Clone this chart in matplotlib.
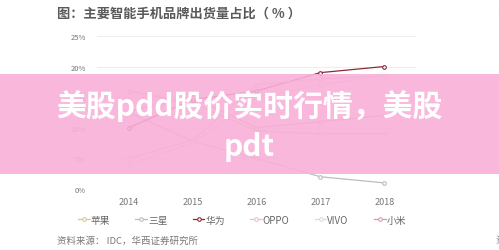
import matplotlib
matplotlib.use("Agg")
import matplotlib.pyplot as plt
from matplotlib.lines import Line2D
from matplotlib.patches import Rectangle

plt.rcParams['font.family'] = ['Noto Sans CJK SC', 'DejaVu Sans']

years = [2014, 2015, 2016, 2017, 2018]
brands = ['苹果', '三星', '华为', 'OPPO', 'VIVO', '小米']
apple = [16.0, 14.0, 9.5, 9.0, 9.0]
samsung = [12.5, 7.8, 5.0, 2.0, 1.0]
huawei = [10.0, 14.6, 16.0, 19.0, 20.0]
oppo = [5.0, 8.0, 17.0, 18.0, 18.5]
vivo = [4.0, 7.5, 15.0, 17.0, 18.5]
xiaomi = [12.7, 15.0, 10.0, 11.0, 12.0]
series = [apple, samsung, huawei, oppo, vivo, xiaomi]
colors = ['#d8c79a', '#bdbdbd', '#8e2a36', '#e6c3c6', '#dcdcdc', '#d39ea4']
yticks = [0, 5, 10, 15, 20, 25]
ytick_labels = ['0%', '5%', '10%', '15%', '20%', '25%']

fig = plt.figure(figsize=(4.99, 2.51), dpi=100)
ax = fig.add_axes([0.194, 0.243, 0.640, 0.610])
for vals, c in zip(series, colors):
    ax.plot(years, vals, color=c, lw=0.9, marker='o', ms=2.6,
            mfc='white', mec=c, mew=0.8, zorder=3)
ax.set_xlim(2013.5, 2018.5)
ax.set_ylim(0, 25)
ax.set_yticks(yticks)
ax.set_yticklabels(ytick_labels)
ax.set_xticks(years)
ax.set_xticklabels([str(y) for y in years])
ax.grid(axis='y', color='#eeeeee', lw=0.8)
ax.set_axisbelow(True)
for s in ax.spines.values():
    s.set_visible(False)
ax.tick_params(axis='both', length=0, colors='#777777')
ax.tick_params(axis='y', labelsize=5.5, pad=8)
ax.tick_params(axis='x', labelsize=6.5, pad=6)

handles = [Line2D([0], [0], color=c, lw=0.9, marker='o', ms=2.6,
                  mfc='white', mec=c, mew=0.8) for c in colors]
leg = fig.legend(handles, brands, loc='center', bbox_to_anchor=(0.485, 0.12),
                 ncol=6, frameon=False, fontsize=7, handlelength=1.2,
                 handletextpad=0.1, columnspacing=2.6)
for t in leg.get_texts():
    t.set_color('#666666')

fig.text(57 / 499, 1 - 14 / 251, '图：主要智能手机品牌出货量占比（ % ）',
         fontsize=9.5, fontweight='bold', color='#5a5a5a', va='center', ha='left')
fig.text(497 / 499, 1 - 14 / 251, '图', fontsize=9.5, fontweight='bold',
         color='#5a5a5a', va='center', ha='left')
fig.text(57 / 499, 1 - 241 / 251, '资料来源： IDC，华西证券研究所',
         fontsize=6.8, style='italic', color='#777777', va='center', ha='left')
fig.text(495 / 499, 1 - 241 / 251, '资', fontsize=6.8, color='#777777',
         va='center', ha='left')

band = Rectangle((0, 1 - 175 / 251), 1, 100 / 251, transform=fig.transFigure,
                 facecolor='#f8b0d8', alpha=0.9, edgecolor='none', zorder=5)
fig.patches.append(band)
fig.text(0.5, 1 - 106 / 251, '美股pdd股价实时行情，美股', fontsize=21.5,
         fontweight='bold', color='white', ha='center', va='center', zorder=6)
fig.text(0.5, 1 - 147 / 251, 'pdt', fontsize=21.5, fontweight='bold',
         color='white', ha='center', va='center', zorder=6)

fig.savefig('out.png', dpi=100, facecolor='white')
